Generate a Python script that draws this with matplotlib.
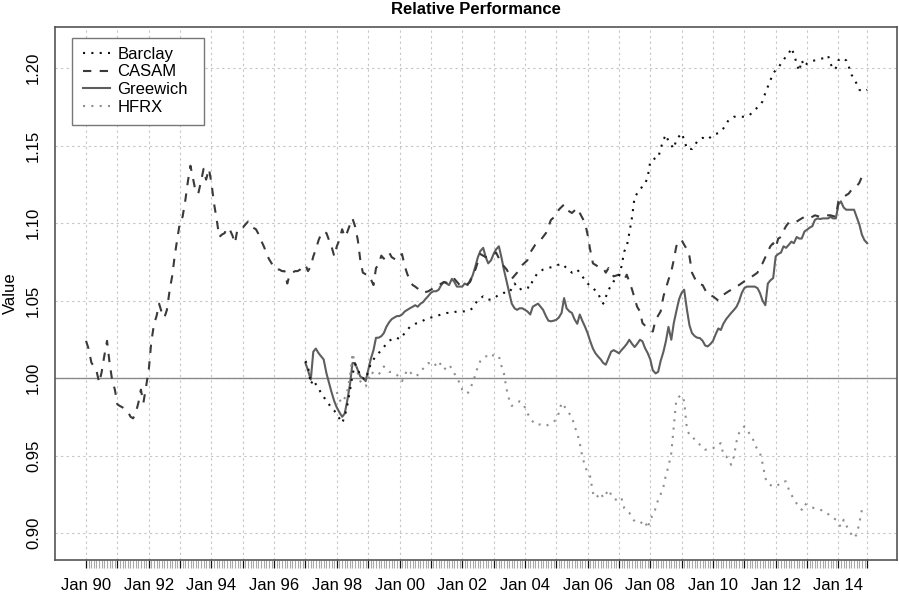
import numpy as np
import matplotlib
matplotlib.use("Agg")
import matplotlib.pyplot as plt
from matplotlib.lines import Line2D
from matplotlib.patches import Rectangle

plt.rcParams['font.family'] = ['Liberation Sans', 'DejaVu Sans']

# ---------------- data (decimal years, relative value) ----------------
casam_t = [1990.00, 1990.08, 1990.17, 1990.25, 1990.33, 1990.42, 1990.50, 1990.58, 1990.67, 1990.75,
           1990.83, 1990.92, 1991.00, 1991.08, 1991.17, 1991.25, 1991.33, 1991.42, 1991.50, 1991.58,
           1991.67, 1991.75, 1991.83, 1991.92, 1992.00, 1992.08, 1992.17, 1992.25, 1992.33, 1992.42,
           1992.50, 1992.58, 1992.67, 1992.75, 1992.83, 1992.92, 1993.00, 1993.08, 1993.17, 1993.25,
           1993.33, 1993.42, 1993.50, 1993.58, 1993.67, 1993.75, 1993.83, 1993.92, 1994.00, 1994.08,
           1994.17, 1994.25, 1994.33, 1994.42, 1994.50, 1994.58, 1994.67, 1994.75, 1994.83, 1994.92,
           1995.00, 1995.08, 1995.17, 1995.25, 1995.33, 1995.42, 1995.50, 1995.58, 1995.67, 1995.75,
           1995.83, 1995.92, 1996.00, 1996.08, 1996.17, 1996.25, 1996.33, 1996.42, 1996.50, 1996.58,
           1996.67, 1996.75, 1996.83, 1996.92, 1997.00, 1997.08, 1997.17, 1997.25, 1997.33, 1997.42,
           1997.50, 1997.58, 1997.67, 1997.75, 1997.83, 1997.92, 1998.00, 1998.08, 1998.17, 1998.25,
           1998.33, 1998.42, 1998.50, 1998.58, 1998.67, 1998.75, 1998.83, 1998.92, 1999.00, 1999.08,
           1999.17, 1999.25, 1999.33, 1999.42, 1999.50, 1999.58, 1999.67, 1999.75, 1999.83, 1999.92,
           2000.00, 2000.08, 2000.17, 2000.25, 2000.33, 2000.42, 2000.50, 2000.75, 2000.92, 2001.08,
           2001.25, 2001.42, 2001.58, 2001.75, 2001.92, 2002.08, 2002.25, 2002.42, 2002.58, 2002.75,
           2002.92, 2003.08, 2003.25, 2003.42, 2003.58, 2003.75, 2003.92, 2004.08, 2004.17, 2004.33,
           2004.50, 2004.67, 2004.83, 2005.00, 2005.08, 2005.25, 2005.33, 2005.50, 2005.67, 2005.75,
           2005.92, 2006.00, 2006.08, 2006.17, 2006.33, 2006.50, 2006.58, 2006.67, 2006.83, 2007.00,
           2007.17, 2007.25, 2007.42, 2007.58, 2007.67, 2007.75, 2007.92, 2008.08, 2008.17, 2008.33,
           2008.42, 2008.58, 2008.67, 2008.75, 2008.83, 2008.92, 2009.00, 2009.08, 2009.17, 2009.25,
           2009.33, 2009.50, 2009.67, 2009.83, 2010.00, 2010.17, 2010.33, 2010.50, 2010.67, 2010.83,
           2011.00, 2011.08, 2011.25, 2011.42, 2011.50, 2011.58, 2011.67, 2011.75, 2011.83, 2011.92,
           2012.00, 2012.08, 2012.17, 2012.25, 2012.33, 2012.42, 2012.58, 2012.67, 2012.83, 2012.92,
           2013.08, 2013.25, 2013.42, 2013.58, 2013.75, 2013.92, 2014.00, 2014.17, 2014.33, 2014.42,
           2014.58, 2014.67, 2014.75, 2014.92]
casam_v = [1.024, 1.019, 1.010, 1.0075, 1.005, 0.997, 1.004, 1.014, 1.024, 1.010,
           0.999, 0.9925, 0.983, 0.982, 0.981, 0.980, 0.9785, 0.975, 0.974, 0.977,
           0.984, 0.9925, 0.984, 0.995, 1.005, 1.023, 1.035, 1.040, 1.048, 1.042,
           1.039, 1.044, 1.057, 1.066, 1.079, 1.091, 1.101, 1.104, 1.115, 1.127,
           1.137, 1.128, 1.120, 1.119, 1.127, 1.135, 1.128, 1.135, 1.126, 1.113,
           1.102, 1.091, 1.0925, 1.0935, 1.097, 1.096, 1.092, 1.087, 1.096, 1.097,
           1.097, 1.099, 1.101, 1.098, 1.097, 1.096, 1.093, 1.089, 1.085, 1.081,
           1.077, 1.074, 1.071, 1.070, 1.070, 1.069, 1.069, 1.061, 1.067, 1.068,
           1.069, 1.069, 1.070, 1.072, 1.073, 1.069, 1.072, 1.0785, 1.083, 1.089,
           1.093, 1.0946, 1.0935, 1.089, 1.085, 1.0785, 1.085, 1.089, 1.096, 1.091,
           1.094, 1.099, 1.103, 1.098, 1.089, 1.076, 1.068, 1.067, 1.067, 1.064,
           1.060, 1.071, 1.073, 1.079, 1.077, 1.080, 1.081, 1.078, 1.077, 1.076,
           1.078, 1.080, 1.072, 1.067, 1.063, 1.060, 1.059, 1.055, 1.056, 1.058,
           1.060, 1.062, 1.061, 1.064, 1.060, 1.059, 1.062, 1.070, 1.080, 1.078,
           1.0785, 1.081, 1.074, 1.070, 1.064, 1.068, 1.073, 1.076, 1.081, 1.086,
           1.089, 1.0935, 1.102, 1.105, 1.1086, 1.112, 1.1086, 1.1065, 1.1097, 1.1065,
           1.100, 1.0925, 1.083, 1.074, 1.072, 1.071, 1.068, 1.071, 1.0656, 1.0667,
           1.0634, 1.0667, 1.057, 1.046, 1.043, 1.0355, 1.032, 1.030, 1.0376, 1.043,
           1.0527, 1.0634, 1.0688, 1.0763, 1.085, 1.089, 1.089, 1.086, 1.083, 1.0785,
           1.068, 1.061, 1.060, 1.0537, 1.0527, 1.050, 1.0537, 1.056, 1.058, 1.060,
           1.0624, 1.0634, 1.0656, 1.068, 1.072, 1.074, 1.078, 1.0817, 1.085, 1.087,
           1.084, 1.090, 1.091, 1.095, 1.098, 1.1004, 1.100, 1.101, 1.103, 1.104,
           1.103, 1.105, 1.104, 1.105, 1.105, 1.104, 1.114, 1.117, 1.119, 1.1215,
           1.1237, 1.126, 1.130, 1.127]

barclay_t = [1997.00, 1997.08, 1997.17, 1997.25, 1997.33, 1997.42, 1997.50, 1997.58, 1997.67, 1997.75,
             1997.83, 1997.92, 1998.00, 1998.08, 1998.17, 1998.25, 1998.33, 1998.42, 1998.50, 1998.58,
             1998.67, 1998.75, 1998.83, 1998.92, 1999.00, 1999.08, 1999.17, 1999.25, 1999.33, 1999.42,
             1999.50, 1999.58, 1999.67, 1999.75, 1999.83, 1999.92, 2000.00, 2000.17, 2000.33, 2000.50,
             2000.67, 2000.83, 2001.00, 2001.17, 2001.33, 2001.50, 2001.67, 2001.83, 2002.00, 2002.17,
             2002.33, 2002.50, 2002.67, 2002.83, 2003.00, 2003.17, 2003.33, 2003.50, 2003.67, 2003.83,
             2004.00, 2004.17, 2004.25, 2004.42, 2004.58, 2004.75, 2004.92, 2005.17, 2005.33, 2005.50,
             2005.67, 2005.83, 2006.00, 2006.17, 2006.33, 2006.42, 2006.50, 2006.67, 2006.83, 2007.00,
             2007.08, 2007.17, 2007.25, 2007.33, 2007.42, 2007.50, 2007.58, 2007.75, 2007.83, 2007.92,
             2008.00, 2008.17, 2008.25, 2008.33, 2008.42, 2008.50, 2008.58, 2008.75, 2008.83, 2009.00,
             2009.08, 2009.17, 2009.33, 2009.50, 2009.67, 2009.83, 2010.00, 2010.17, 2010.33, 2010.50,
             2010.67, 2010.83, 2011.00, 2011.17, 2011.33, 2011.50, 2011.58, 2011.67, 2011.75, 2011.83,
             2011.92, 2012.00, 2012.08, 2012.17, 2012.33, 2012.42, 2012.50, 2012.58, 2012.67, 2012.75,
             2012.83, 2012.92, 2013.00, 2013.08, 2013.25, 2013.42, 2013.58, 2013.67, 2013.75, 2013.83,
             2013.92, 2014.00, 2014.08, 2014.25, 2014.33, 2014.42, 2014.50, 2014.58, 2014.67, 2014.75,
             2014.83, 2014.92]
barclay_v = [1.011, 1.0075, 0.996, 0.999, 0.996, 0.9935, 0.990, 0.988, 0.985, 0.983,
             0.981, 0.979, 0.976, 0.974, 0.971, 0.975, 0.982, 0.992, 1.002, 1.009,
             1.006, 1.001, 1.000, 0.999, 1.004, 1.009, 1.012, 1.014, 1.016, 1.018,
             1.020, 1.022, 1.024, 1.025, 1.026, 1.026, 1.025, 1.029, 1.033, 1.035,
             1.036, 1.038, 1.039, 1.040, 1.041, 1.042, 1.042, 1.043, 1.043, 1.043,
             1.045, 1.0505, 1.0527, 1.0505, 1.051, 1.054, 1.055, 1.055, 1.061, 1.057,
             1.059, 1.058, 1.0634, 1.068, 1.070, 1.071, 1.072, 1.0738, 1.071, 1.068,
             1.070, 1.0656, 1.061, 1.058, 1.055, 1.0505, 1.048, 1.057, 1.0624, 1.0656,
             1.072, 1.0817, 1.085, 1.0935, 1.104, 1.117, 1.119, 1.1237, 1.125, 1.130,
             1.1398, 1.142, 1.142, 1.148, 1.1538, 1.157, 1.1527, 1.148, 1.1538, 1.158,
             1.1538, 1.1478, 1.1478, 1.1527, 1.155, 1.1538, 1.157, 1.158, 1.161, 1.1665,
             1.1686, 1.1686, 1.1686, 1.1697, 1.173, 1.176, 1.1785, 1.184, 1.188, 1.192,
             1.1966, 1.1987, 1.200, 1.203, 1.2075, 1.2095, 1.213, 1.209, 1.203, 1.198,
             1.205, 1.201, 1.203, 1.204, 1.205, 1.206, 1.2065, 1.208, 1.203, 1.199,
             1.200, 1.205, 1.2065, 1.205, 1.201, 1.1957, 1.193, 1.190, 1.186, 1.185,
             1.185, 1.186]

greewich_t = [1997.00, 1997.08, 1997.17, 1997.25, 1997.33, 1997.42, 1997.50, 1997.58, 1997.67, 1997.75,
              1997.83, 1997.92, 1998.00, 1998.08, 1998.17, 1998.25, 1998.33, 1998.42, 1998.50, 1998.58,
              1998.67, 1998.75, 1998.83, 1998.92, 1999.00, 1999.08, 1999.17, 1999.25, 1999.33, 1999.42,
              1999.50, 1999.58, 1999.67, 1999.75, 1999.83, 1999.92, 2000.00, 2000.08, 2000.17, 2000.25,
              2000.33, 2000.42, 2000.50, 2000.58, 2000.67, 2000.75, 2000.83, 2000.92, 2001.00, 2001.08,
              2001.17, 2001.25, 2001.33, 2001.42, 2001.50, 2001.58, 2001.67, 2001.75, 2001.83, 2001.92,
              2002.00, 2002.08, 2002.17, 2002.25, 2002.33, 2002.42, 2002.50, 2002.58, 2002.67, 2002.75,
              2002.83, 2002.92, 2003.00, 2003.08, 2003.17, 2003.25, 2003.33, 2003.42, 2003.50, 2003.58,
              2003.67, 2003.75, 2003.83, 2003.92, 2004.00, 2004.08, 2004.17, 2004.25, 2004.33, 2004.42,
              2004.50, 2004.58, 2004.67, 2004.75, 2004.83, 2004.92, 2005.00, 2005.08, 2005.17, 2005.25,
              2005.33, 2005.42, 2005.50, 2005.58, 2005.67, 2005.75, 2005.83, 2005.92, 2006.00, 2006.08,
              2006.17, 2006.25, 2006.33, 2006.42, 2006.50, 2006.58, 2006.67, 2006.75, 2006.83, 2006.92,
              2007.00, 2007.08, 2007.17, 2007.25, 2007.33, 2007.42, 2007.50, 2007.58, 2007.67, 2007.75,
              2007.83, 2007.92, 2008.00, 2008.08, 2008.17, 2008.25, 2008.33, 2008.42, 2008.50, 2008.58,
              2008.67, 2008.75, 2008.83, 2008.92, 2009.00, 2009.08, 2009.17, 2009.25, 2009.33, 2009.42,
              2009.50, 2009.58, 2009.67, 2009.75, 2009.83, 2009.92, 2010.00, 2010.08, 2010.17, 2010.25,
              2010.33, 2010.42, 2010.50, 2010.58, 2010.67, 2010.75, 2010.83, 2010.92, 2011.00, 2011.08,
              2011.17, 2011.25, 2011.33, 2011.42, 2011.50, 2011.58, 2011.67, 2011.75, 2011.83, 2011.92,
              2012.00, 2012.08, 2012.17, 2012.25, 2012.33, 2012.42, 2012.50, 2012.58, 2012.67, 2012.75,
              2012.83, 2012.92, 2013.00, 2013.08, 2013.17, 2013.25, 2013.33, 2013.42, 2013.50, 2013.58,
              2013.67, 2013.75, 2013.83, 2013.92, 2014.00, 2014.08, 2014.17, 2014.25, 2014.33, 2014.42,
              2014.50, 2014.58, 2014.67, 2014.75, 2014.83, 2014.92]
greewich_v = [1.0097, 1.005, 0.999, 1.017, 1.019, 1.016, 1.014, 1.012, 1.003, 0.997,
              0.991, 0.985, 0.981, 0.978, 0.975, 0.977, 0.985, 0.996, 1.0097, 1.0097,
              1.005, 1.001, 1.000, 0.998, 1.005, 1.012, 1.018, 1.026, 1.026, 1.027,
              1.029, 1.033, 1.036, 1.038, 1.039, 1.040, 1.040, 1.041, 1.043, 1.044,
              1.045, 1.046, 1.047, 1.046, 1.048, 1.049, 1.051, 1.053, 1.055, 1.056,
              1.056, 1.057, 1.060, 1.062, 1.061, 1.060, 1.064, 1.062, 1.059, 1.059,
              1.059, 1.061, 1.060, 1.063, 1.066, 1.072, 1.078, 1.082, 1.084, 1.078,
              1.074, 1.076, 1.080, 1.083, 1.085, 1.078, 1.070, 1.062, 1.055, 1.048,
              1.045, 1.044, 1.045, 1.045, 1.044, 1.043, 1.041, 1.046, 1.047, 1.048,
              1.046, 1.044, 1.040, 1.037, 1.0366, 1.037, 1.0376, 1.039, 1.042, 1.0516,
              1.045, 1.043, 1.042, 1.038, 1.035, 1.041, 1.037, 1.033, 1.029, 1.024,
              1.019, 1.016, 1.014, 1.012, 1.0097, 1.0086, 1.013, 1.017, 1.018, 1.017,
              1.016, 1.018, 1.020, 1.022, 1.0247, 1.022, 1.020, 1.022, 1.0247, 1.0237,
              1.0194, 1.016, 1.012, 1.005, 1.003, 1.004, 1.011, 1.017, 1.024, 1.033,
              1.0247, 1.0355, 1.043, 1.051, 1.055, 1.057, 1.044, 1.034, 1.029, 1.027,
              1.026, 1.0258, 1.024, 1.021, 1.0204, 1.022, 1.024, 1.028, 1.032, 1.031,
              1.035, 1.038, 1.040, 1.042, 1.044, 1.046, 1.0495, 1.055, 1.058, 1.059,
              1.059, 1.059, 1.059, 1.058, 1.0548, 1.050, 1.047, 1.061, 1.063, 1.0645,
              1.0785, 1.080, 1.081, 1.085, 1.084, 1.086, 1.088, 1.087, 1.091, 1.090,
              1.090, 1.0946, 1.0957, 1.097, 1.098, 1.102, 1.103, 1.1026, 1.103, 1.103,
              1.103, 1.104, 1.103, 1.103, 1.112, 1.114, 1.110, 1.1086, 1.1086, 1.1086,
              1.1086, 1.104, 1.099, 1.0925, 1.089, 1.087]

hfrx_t = [1998.00, 1998.08, 1998.17, 1998.25, 1998.33, 1998.42, 1998.50, 1998.58, 1998.67, 1998.75,
          1998.83, 1998.92, 1999.00, 1999.08, 1999.17, 1999.25, 1999.33, 1999.42, 1999.50, 1999.58,
          1999.67, 1999.75, 1999.83, 1999.92, 2000.00, 2000.08, 2000.17, 2000.25, 2000.33, 2000.42,
          2000.50, 2000.58, 2000.67, 2000.75, 2000.83, 2000.92, 2001.00, 2001.08, 2001.17, 2001.25,
          2001.33, 2001.42, 2001.50, 2001.58, 2001.67, 2001.75, 2001.83, 2001.92, 2002.00, 2002.08,
          2002.17, 2002.25, 2002.33, 2002.42, 2002.50, 2002.58, 2002.67, 2002.75, 2002.83, 2002.92,
          2003.00, 2003.08, 2003.17, 2003.25, 2003.33, 2003.42, 2003.50, 2003.58, 2003.67, 2003.75,
          2003.83, 2003.92, 2004.00, 2004.08, 2004.17, 2004.25, 2004.33, 2004.42, 2004.50, 2004.58,
          2004.67, 2004.75, 2004.83, 2004.92, 2005.00, 2005.08, 2005.17, 2005.25, 2005.33, 2005.42,
          2005.50, 2005.58, 2005.67, 2005.75, 2005.83, 2005.92, 2006.00, 2006.08, 2006.17, 2006.25,
          2006.33, 2006.42, 2006.50, 2006.58, 2006.67, 2006.75, 2006.83, 2006.92, 2007.00, 2007.08,
          2007.17, 2007.25, 2007.33, 2007.42, 2007.50, 2007.58, 2007.67, 2007.75, 2007.83, 2007.92,
          2008.00, 2008.08, 2008.17, 2008.25, 2008.33, 2008.42, 2008.50, 2008.58, 2008.67, 2008.75,
          2008.83, 2008.92, 2009.00, 2009.08, 2009.17, 2009.25, 2009.33, 2009.42, 2009.50, 2009.58,
          2009.67, 2009.75, 2009.83, 2009.92, 2010.00, 2010.08, 2010.17, 2010.25, 2010.33, 2010.42,
          2010.50, 2010.58, 2010.67, 2010.75, 2010.83, 2010.92, 2011.00, 2011.08, 2011.17, 2011.25,
          2011.33, 2011.42, 2011.50, 2011.58, 2011.67, 2011.75, 2011.83, 2011.92, 2012.00, 2012.08,
          2012.17, 2012.25, 2012.33, 2012.42, 2012.50, 2012.58, 2012.67, 2012.75, 2012.83, 2012.92,
          2013.00, 2013.08, 2013.25, 2013.42, 2013.58, 2013.75, 2013.92, 2014.00, 2014.08, 2014.17,
          2014.25, 2014.33, 2014.42, 2014.50, 2014.58, 2014.67, 2014.75, 2014.83, 2014.92]
hfrx_v = [0.991, 0.986, 0.984, 0.987, 0.991, 1.001, 1.016, 1.0097, 1.003, 0.998,
          0.9957, 0.9946, 0.998, 1.004, 1.003, 1.002, 1.002, 1.005, 1.0075, 1.006,
          1.004, 1.004, 1.003, 1.002, 1.000, 0.998, 1.002, 1.0054, 1.004, 1.002,
          1.001, 1.002, 1.004, 1.006, 1.008, 1.0097, 1.009, 1.0075, 1.009, 1.011,
          1.008, 1.0054, 1.007, 1.0086, 1.006, 1.003, 1.000, 0.9968, 0.9925, 0.991,
          0.990, 0.993, 0.9968, 1.002, 1.0075, 1.011, 1.013, 1.014, 1.014, 1.013,
          1.015, 1.015, 1.014, 1.008, 1.003, 0.9925, 0.986, 0.982, 0.983, 0.984,
          0.985, 0.984, 0.981, 0.9774, 0.974, 0.972, 0.970, 0.970, 0.970, 0.9695,
          0.969, 0.970, 0.971, 0.972, 0.973, 0.9774, 0.984, 0.982, 0.9796, 0.977,
          0.975, 0.969, 0.9645, 0.958, 0.9495, 0.943, 0.939, 0.9366, 0.926, 0.9226,
          0.924, 0.926, 0.9226, 0.925, 0.928, 0.9247, 0.922, 0.9215, 0.921, 0.9226,
          0.916, 0.914, 0.913, 0.910, 0.9075, 0.9075, 0.9075, 0.906, 0.9075, 0.903,
          0.9097, 0.911, 0.916, 0.9215, 0.925, 0.930, 0.9376, 0.943, 0.9516, 0.9688,
          0.986, 0.988, 0.989, 0.985, 0.9667, 0.9634, 0.963, 0.960, 0.959, 0.957,
          0.956, 0.9538, 0.954, 0.955, 0.955, 0.955, 0.957, 0.958, 0.9505, 0.9495,
          0.947, 0.944, 0.9495, 0.959, 0.9645, 0.967, 0.9688, 0.9667, 0.964, 0.9624,
          0.957, 0.954, 0.9516, 0.945, 0.9355, 0.932, 0.931, 0.930, 0.930, 0.931,
          0.933, 0.9333, 0.9333, 0.928, 0.9247, 0.922, 0.919, 0.917, 0.915, 0.919,
          0.918, 0.917, 0.916, 0.915, 0.914, 0.9108, 0.9086, 0.906, 0.904, 0.9086,
          0.905, 0.902, 0.899, 0.8968, 0.899, 0.9065, 0.915, 0.914, 0.913]

series_names = ["Barclay", "CASAM", "Greewich", "HFRX"]
tick_years = list(range(1990, 2015))
label_years = list(range(1990, 2015, 2))
y_ticks = [0.90, 0.95, 1.00, 1.05, 1.10, 1.15, 1.20]

# ---------------- figure ----------------
W, H = 899, 593
fig = plt.figure(figsize=(W / 100, H / 100), dpi=100)
ax = fig.add_axes([55 / W, 1 - 560 / H, (897 - 55) / W, (560 - 27) / H])

ax.set_xlim(1989.01, 2015.87)
ax.set_ylim(0.8826, 1.2265)

# grid
grid_kw = dict(color="#c4c4c4", lw=0.8, ls=(0, (2, 3)), zorder=1)
for yr in tick_years + [2014 + 11 / 12]:
    ax.axvline(yr, **grid_kw)
for yv in y_ticks:
    ax.axhline(yv, **grid_kw)
ax.axhline(1.0, color="#8a8a8a", lw=1.0, zorder=2)

lw = 1.5
ax.plot(casam_t, casam_v, color="#3a3a3a", lw=lw, ls=(0, (4, 4)), zorder=4)
ax.plot(greewich_t, greewich_v, color="#5e5e5e", lw=lw, ls="-", zorder=3)
ax.plot(hfrx_t, hfrx_v, color="#8e8e8e", lw=lw, ls=(0, (1, 3)), zorder=3)
ax.plot(barclay_t, barclay_v, color="#111111", lw=lw, ls=(0, (1, 3)), zorder=5)

# axes frame
for s in ax.spines.values():
    s.set_color("#555555")
    s.set_linewidth(1.2)

# x ticks: monthly minor (grey), yearly major (black)
major_pos = tick_years + [2014 + 11 / 12]
major_lab = [("Jan %02d" % (y % 100)) if y in label_years else "" for y in tick_years] + [""]
ax.set_xticks(major_pos)
ax.set_xticklabels(major_lab, fontsize=12)
ax.set_xticks([1990 + m / 12 for m in range(300)], minor=True)
ax.tick_params(axis="x", which="major", direction="out", length=5.5, width=0.9, color="#111111", pad=7.5)
ax.tick_params(axis="x", which="minor", direction="out", length=5.5, width=0.8, color="#a8a8a8")

ax.set_yticks(y_ticks)
ax.set_yticklabels(["%.2f" % v for v in y_ticks], fontsize=12, rotation=90, va="center")
ax.tick_params(axis="y", which="both", length=0, pad=10)

ax.set_ylabel("Value", fontsize=12, labelpad=6)
ax.set_title("Relative Performance", fontsize=12, fontweight="bold", pad=9)

# legend: frame drawn as rectangle in pixel-matched axes coords
def px_to_axes(x, y):
    return ((x - 55) / 842, (560 - y) / 533)

bx0, by0 = px_to_axes(71.7, 125)
bx1, by1 = px_to_axes(204, 38.3)
ax.add_patch(Rectangle((bx0, by0), bx1 - bx0, by1 - by0, transform=ax.transAxes,
                       facecolor="white", edgecolor="#777777", lw=1.0, zorder=6))

handles = [
    Line2D([], [], color="#111111", lw=lw, ls=(0, (1, 3))),
    Line2D([], [], color="#3a3a3a", lw=lw, ls=(0, (4, 4))),
    Line2D([], [], color="#5e5e5e", lw=lw, ls="-"),
    Line2D([], [], color="#8e8e8e", lw=lw, ls=(0, (1, 3))),
]
lx, ly = px_to_axes(83, 46.5)
leg = ax.legend(handles, series_names, loc="upper left", bbox_to_anchor=(lx, ly),
                borderaxespad=0, fontsize=12, frameon=False, borderpad=0,
                labelspacing=0.17, handlelength=1.6, handletextpad=0.45)
leg.set_zorder(7)

fig.savefig("out.png", dpi=100)
